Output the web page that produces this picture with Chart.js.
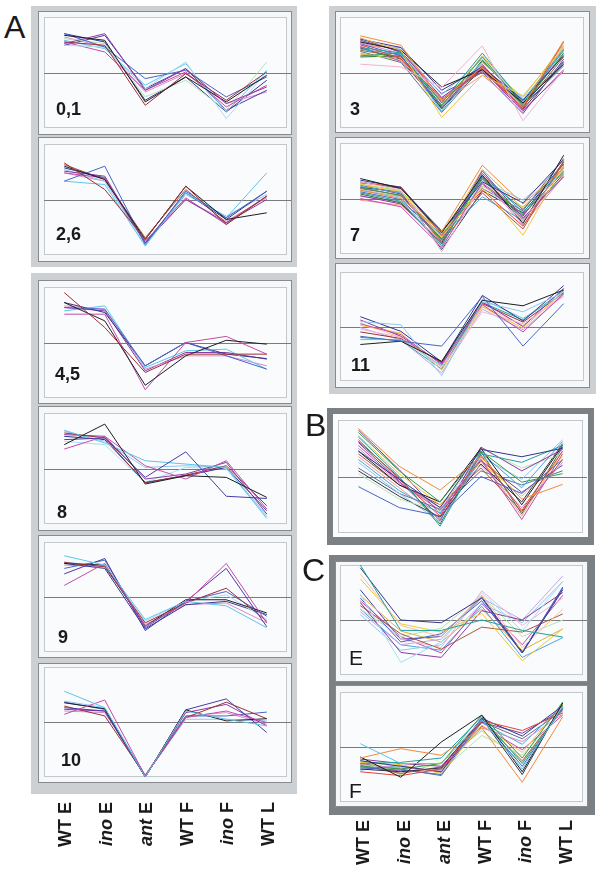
<!DOCTYPE html>
<html>
<head>
<meta charset="utf-8">
<script src="https://cdn.jsdelivr.net/npm/chart.js@4.4.0/dist/chart.umd.min.js"></script>
<style>
  body { margin: 0; background: #fff; width: 600px; height: 880px; position: relative; overflow: hidden;
         font-family: "Liberation Sans", Arial, sans-serif; color: #1a1a1a; }
  .frame { position: absolute; background: #cdd0d3; }
  .frame.dark { background: #7b8085; }
  .inset { position: absolute; background: #fbfcfd; }
  .box { position: absolute; box-sizing: border-box; border: 1px solid #878b90; background: #f5f7f9; }
  .plot { position: absolute; box-sizing: border-box; border: 1px solid #c4c8cc; background: #fafbfd; }
  canvas { position: absolute; }
  .tag { position: absolute; font-weight: bold; font-size: 18px; line-height: 1; }
  .tag.thin { font-weight: normal; font-size: 21px; }
  .big { position: absolute; font-size: 32px; line-height: 1; }
</style>
</head>
<body>
<script>
// x categories (sample stages)
const stages = ["WT E", "ino E", "ant E", "WT F", "ino F", "WT L"];
const italicWords = ["ino", "ant"];

// cluster profiles, one row per gene, scaled so the panel edges are +/-1
const c01 = [
  [0.52, 0.70, -0.32, 0.07, -0.56, -0.26],
  [0.67, 0.58, -0.53, -0.08, -0.53, -0.05],
  [0.55, 0.49, -0.59, -0.02, -0.50, 0.01],
  [0.70, 0.46, -0.11, 0.04, -0.44, -0.08],
  [0.49, 0.46, -0.29, 0.19, -0.83, 0.01],
  [0.55, 0.37, -0.32, 0.01, -0.62, -0.23],
  [0.61, 0.52, -0.44, -0.14, -0.68, 0.19],
  [0.58, 0.43, -0.23, 0.16, -0.71, 0.04],
  [0.49, 0.67, -0.29, 0.07, -0.68, -0.32],
  [0.64, 0.46, -0.35, -0.02, -0.56, -0.35],
  [0.70, 0.55, -0.50, -0.08, -0.71, -0.14]
];
const c26 = [
  [0.66, 0.18, -0.72, 0.24, -0.45, 0.06],
  [0.60, 0.36, -0.72, 0.24, -0.36, -0.24],
  [0.33, 0.60, -0.81, 0.15, -0.33, 0.15],
  [0.33, 0.27, -0.84, 0.12, -0.33, 0.48],
  [0.51, 0.42, -0.78, 0.00, -0.42, 0.00],
  [0.48, 0.39, -0.75, 0.03, -0.45, 0.06],
  [0.57, 0.39, -0.78, 0.12, -0.36, 0.15],
  [0.54, 0.33, -0.81, 0.09, -0.30, 0.09],
  [0.63, 0.36, -0.69, 0.18, -0.42, 0.06],
  [0.48, 0.33, -0.78, 0.00, -0.39, 0.03]
];
const c45 = [
  [0.90, 0.27, -0.54, -0.21, -0.21, -0.21],
  [0.72, 0.39, -0.77, -0.24, 0.04, -0.03],
  [0.51, 0.51, -0.85, 0.00, 0.11, -0.21],
  [0.63, 0.60, -0.42, 0.00, -0.24, -0.48],
  [0.57, 0.66, -0.45, -0.15, -0.12, -0.48],
  [0.72, 0.54, -0.42, 0.00, -0.21, -0.29],
  [0.66, 0.60, -0.48, -0.24, -0.24, -0.42],
  [0.63, 0.57, -0.51, -0.18, -0.18, -0.30]
];
const c8 = [
  [0.43, 0.80, -0.28, -0.13, -0.16, -0.52],
  [0.52, 0.55, -0.16, 0.30, -0.50, -0.54],
  [0.69, 0.46, 0.14, 0.08, 0.02, -0.90],
  [0.35, 0.58, 0.05, -0.19, 0.14, -0.73],
  [0.64, 0.55, -0.26, -0.12, 0.05, -0.67],
  [0.61, 0.58, -0.19, -0.10, 0.11, -0.82],
  [0.67, 0.49, 0.02, 0.05, 0.02, -0.85],
  [0.58, 0.52, -0.25, -0.13, 0.02, -0.76],
  [0.49, 0.43, -0.25, 0.02, -0.01, -0.87]
];
const c9 = [
  [0.75, 0.58, -0.41, -0.08, -0.16, -0.56],
  [0.21, 0.61, -0.53, -0.11, 0.61, -0.47],
  [0.42, 0.70, -0.61, -0.08, 0.52, -0.54],
  [0.63, 0.55, -0.47, -0.11, 0.16, -0.44],
  [0.61, 0.58, -0.53, -0.05, -0.05, -0.29],
  [0.52, 0.67, -0.56, -0.08, 0.10, -0.35],
  [0.64, 0.55, -0.44, -0.08, 0.04, -0.41],
  [0.61, 0.52, -0.58, -0.14, -0.08, -0.32],
  [0.58, 0.55, -0.50, -0.14, -0.11, -0.47]
];
const c10 = [
  [0.56, 0.26, -1.00, 0.20, 0.05, -0.07],
  [0.14, 0.40, -0.98, 0.08, 0.20, -0.01],
  [0.35, 0.24, -1.00, 0.22, 0.02, 0.06],
  [0.26, 0.20, -1.00, 0.22, 0.42, -0.19],
  [0.29, 0.11, -0.98, 0.08, 0.36, 0.06],
  [0.36, 0.23, -0.98, 0.11, 0.11, 0.18],
  [0.23, 0.20, -1.00, 0.17, 0.32, -0.07],
  [0.20, 0.17, -0.96, 0.11, 0.17, -0.04],
  [0.38, 0.26, -0.98, 0.05, 0.05, 0.02]
];
const c3 = [
  [0.66, 0.49, -0.50, 0.10, -0.60, 0.57],
  [0.62, 0.40, -0.81, -0.05, -0.42, 0.45],
  [0.15, 0.10, -0.27, 0.48, -0.87, 0.05],
  [0.55, 0.40, -0.26, 0.05, -0.55, 0.15],
  [0.60, 0.45, -0.32, 0.10, -0.50, 0.30],
  [0.45, 0.35, -0.55, 0.35, -0.55, 0.40],
  [0.30, 0.35, -0.60, 0.28, -0.60, 0.35],
  [0.50, 0.25, -0.52, 0.08, -0.65, 0.55],
  [0.58, 0.38, -0.45, 0.05, -0.70, 0.05],
  [0.52, 0.30, -0.62, 0.12, -0.58, 0.20],
  [0.42, 0.32, -0.70, 0.20, -0.52, 0.42],
  [0.40, 0.28, -0.48, 0.02, -0.62, 0.28],
  [0.47, 0.20, -0.58, 0.15, -0.68, 0.02],
  [0.35, 0.22, -0.50, 0.18, -0.45, 0.50],
  [0.28, 0.30, -0.66, 0.22, -0.56, 0.32],
  [0.56, 0.42, -0.40, 0.24, -0.48, 0.38],
  [0.48, 0.45, -0.54, -0.05, -0.64, 0.48],
  [0.38, 0.18, -0.72, 0.10, -0.60, 0.12],
  [0.62, 0.36, -0.38, 0.00, -0.74, 0.24],
  [0.33, 0.26, -0.60, 0.30, -0.50, 0.44],
  [0.54, 0.34, -0.46, 0.12, -0.54, 0.35],
  [0.44, 0.24, -0.64, 0.06, -0.66, 0.18]
];
const c7 = [
  [0.15, 0.00, -0.60, 0.60, -0.10, 0.55],
  [0.25, 0.12, -0.70, 0.20, -0.66, 0.60],
  [0.30, 0.15, -0.96, 0.25, -0.40, 0.55],
  [0.36, 0.18, -0.62, 0.42, -0.45, 0.78],
  [0.33, 0.20, -0.60, 0.30, -0.08, 0.70],
  [0.10, -0.05, -0.85, 0.45, -0.25, 0.55],
  [0.20, 0.05, -0.75, 0.35, -0.30, 0.50],
  [0.28, 0.21, -0.66, 0.15, -0.50, 0.65],
  [0.05, -0.10, -0.80, 0.50, -0.35, 0.39],
  [0.12, -0.02, -0.72, 0.40, -0.20, 0.62],
  [0.22, 0.10, -0.68, 0.03, -0.40, 0.58],
  [0.18, 0.06, -0.78, 0.10, -0.55, 0.68],
  [0.00, -0.15, -0.88, 0.28, -0.28, 0.48],
  [0.26, 0.14, -0.64, 0.22, -0.15, 0.52],
  [0.08, -0.08, -0.82, 0.38, -0.38, 0.45],
  [0.16, 0.02, -0.90, 0.32, -0.03, 0.60],
  [-0.03, -0.12, -0.76, 0.46, -0.42, 0.42],
  [0.30, 0.18, -0.58, 0.18, -0.22, 0.72],
  [0.24, 0.08, -0.74, 0.26, -0.32, 0.66],
  [0.14, 0.04, -0.70, 0.52, -0.18, 0.56],
  [0.04, -0.06, -0.66, 0.36, -0.48, 0.40],
  [0.20, 0.12, -0.92, 0.14, -0.26, 0.62]
];
const c11 = [
  [-0.18, -0.27, -0.36, 0.55, -0.36, 0.42],
  [-0.33, -0.27, -0.64, 0.48, 0.38, 0.67],
  [0.09, 0.03, -0.90, 0.45, 0.27, 0.63],
  [0.18, -0.09, -0.65, 0.57, 0.10, 0.75],
  [0.05, -0.15, -0.70, 0.40, -0.10, 0.60],
  [-0.05, -0.20, -0.75, 0.27, 0.05, 0.55],
  [0.02, -0.12, -0.80, 0.36, -0.03, 0.65],
  [-0.24, -0.24, -0.72, 0.50, 0.15, 0.60],
  [0.12, -0.18, -0.68, 0.45, 0.00, 0.70],
  [-0.10, -0.22, -0.66, 0.42, 0.08, 0.62],
  [-0.02, -0.25, -0.85, 0.32, -0.06, 0.58],
  [-0.20, -0.26, -0.78, 0.44, 0.12, 0.66],
  [0.06, -0.20, -0.74, 0.38, 0.02, 0.60]
];
const cB = [
  [0.85, 0.18, -0.24, 0.35, -0.40, -0.14],
  [-0.18, -0.55, -0.70, 0.00, -0.30, 0.30],
  [0.45, -0.05, -0.55, 0.48, 0.35, 0.50],
  [0.70, 0.00, -0.88, 0.40, 0.25, 0.55],
  [0.78, 0.10, -0.45, 0.45, -0.10, 0.05],
  [0.55, -0.10, -0.60, 0.30, -0.76, 0.40],
  [0.45, -0.15, -0.45, 0.50, -0.50, 0.55],
  [0.65, -0.05, -0.70, 0.38, -0.60, 0.45],
  [0.72, 0.05, -0.50, 0.25, -0.35, 0.35],
  [0.60, -0.08, -0.78, 0.52, 0.10, 0.48],
  [0.30, -0.25, -0.65, 0.42, -0.20, 0.62],
  [0.50, -0.12, -0.55, 0.20, -0.55, 0.25],
  [0.05, -0.40, -0.62, 0.50, 0.15, 0.40],
  [0.10, -0.35, -0.72, 0.22, -0.45, 0.58],
  [0.40, -0.15, -0.50, 0.15, -0.62, 0.30],
  [0.25, -0.30, -0.80, 0.35, -0.05, 0.65],
  [0.82, 0.12, -0.66, 0.28, -0.28, 0.20],
  [0.62, -0.02, -0.84, 0.44, -0.66, 0.52],
  [0.15, -0.30, -0.58, 0.10, -0.15, 0.10],
  [0.35, -0.20, -0.75, 0.32, -0.70, 0.45]
];
const cE = [
  [1.00, -0.19, -0.19, 0.00, -0.19, -0.31],
  [0.95, 0.00, -0.05, 0.40, -0.60, 0.55],
  [0.84, -0.10, -0.30, 0.45, -0.50, 0.20],
  [0.75, -0.07, -0.22, 0.12, -0.74, -0.16],
  [0.47, -0.77, -0.40, 0.50, -0.20, 0.70],
  [0.32, -0.59, -0.68, 0.17, 0.00, 0.50],
  [0.26, -0.25, -0.53, -0.13, -0.22, 0.11],
  [0.40, -0.40, -0.25, 0.35, -0.60, 0.60],
  [0.30, -0.35, -0.50, 0.53, -0.10, 0.40],
  [0.15, -0.45, -0.35, 0.40, 0.00, 0.80],
  [0.10, -0.55, -0.45, 0.30, -0.05, 0.70],
  [0.20, -0.30, -0.15, 0.45, -0.30, 0.00],
  [0.35, -0.30, -0.60, 0.30, -0.45, 0.45],
  [0.20, -0.45, -0.55, 0.25, -0.68, -0.32],
  [0.45, -0.20, -0.40, 0.20, -0.55, -0.16],
  [0.55, -0.35, -0.30, 0.42, -0.58, 0.58]
];
const cF = [
  [0.06, -0.30, -0.30, 0.50, -0.40, 0.75],
  [-0.20, -0.03, -0.15, 0.35, -0.64, 0.55],
  [-0.18, -0.55, 0.09, 0.58, -0.45, 0.80],
  [-0.45, -0.52, -0.40, 0.48, 0.30, 0.62],
  [-0.25, -0.35, -0.45, 0.52, 0.20, 0.75],
  [-0.30, -0.28, -0.20, 0.55, -0.30, 0.70],
  [-0.35, -0.40, -0.30, 0.58, -0.20, 0.82],
  [-0.28, -0.32, -0.48, 0.40, -0.10, 0.78],
  [-0.22, -0.30, -0.35, 0.45, 0.25, 0.68],
  [-0.38, -0.42, -0.50, 0.50, -0.35, 0.72],
  [-0.32, -0.38, -0.42, 0.35, 0.10, 0.60],
  [-0.40, -0.45, -0.38, 0.52, -0.50, 0.80],
  [-0.26, -0.36, -0.44, 0.21, -0.15, 0.65],
  [-0.33, -0.48, -0.36, 0.48, -0.25, 0.70],
  [-0.42, -0.34, -0.46, 0.44, 0.05, 0.76],
  [-0.36, -0.44, -0.40, 0.38, -0.05, 0.58],
  [-0.24, -0.50, -0.28, 0.30, -0.28, 0.74],
  [-0.30, -0.40, -0.52, 0.46, 0.15, 0.66]
];

// line colours
const col = {
  navy: "#33348f", purple: "#8b3a9f", magenta: "#c64aa7", cyan: "#5cc4e8", ltcyan: "#a8def0",
  black: "#1e1e1e", dkred: "#9c2f36", blue: "#4b63c7", pink: "#d78dca", violet: "#6a3fa8",
  ltgreen: "#b6e2b4", indigo: "#4a3aa8", orange: "#f08a3c", yellow: "#f2c53d", teal: "#23a09a",
  green: "#3a9a4e", red: "#e2433b", sky: "#4aa3e0", brown: "#a4583a", lime: "#b4d35a",
  slate: "#5f7185", ltblue: "#8fc7ee", salmon: "#f39a8c", dkgreen: "#2f6e3e", gold: "#d9b43a",
  peach: "#f6c09a", lavender: "#c3a6e4", ltpink: "#f3b2d2", dark: "#333344"
};
const k01 = ["purple", "black", "dkred", "blue", "ltcyan", "magenta", "ltgreen", "cyan", "indigo", "pink", "navy"];
const k26 = ["dkred", "black", "blue", "cyan", "purple", "magenta", "navy", "ltblue", "brown", "pink"];
const k45 = ["dkred", "black", "magenta", "blue", "cyan", "navy", "pink", "purple"];
const k8 = ["black", "indigo", "cyan", "magenta", "dkred", "purple", "ltblue", "navy", "ltcyan"];
const k9 = ["cyan", "magenta", "indigo", "dkred", "black", "blue", "ltcyan", "navy", "pink"];
const k10 = ["cyan", "magenta", "black", "indigo", "dkred", "blue", "purple", "pink", "ltblue"];
const kBig = ["orange", "yellow", "ltpink", "black", "navy", "teal", "green", "red", "purple", "blue", "sky",
              "brown", "magenta", "lime", "dkgreen", "ltblue", "salmon", "slate", "violet", "gold", "pink", "dark"];
const k11 = ["blue", "black", "ltblue", "navy", "magenta", "ltpink", "yellow", "cyan", "purple", "dkred", "lavender", "teal", "peach"];
const kB = ["orange", "blue", "navy", "teal", "green", "magenta", "black", "red", "yellow", "purple", "sky",
            "pink", "ltgreen", "dark", "brown", "ltblue", "violet", "dkgreen", "slate", "salmon"];
const kE = ["teal", "navy", "peach", "yellow", "ltcyan", "purple", "brown", "blue", "ltpink", "lavender",
            "ltblue", "ltgreen", "magenta", "sky", "gold", "indigo"];
const kF = ["cyan", "orange", "black", "red", "navy", "teal", "green", "yellow", "purple", "blue", "pink",
            "dark", "ltgreen", "brown", "sky", "magenta", "lime", "slate"];

// page layout: [left, top, width, height]
const frames = [
  { r: [31, 6, 266, 261] }, { r: [31, 273, 266, 521] }, { r: [329, 6, 267, 388] },
  { r: [327, 408, 267, 137], dark: true, inset: [333, 414, 255, 123] },
  { r: [329, 555, 266, 260], dark: true }
];
const panels = [
  { rows: c01, keys: k01, box: [38, 11, 254, 124], plot: [44, 17, 243, 111], tag: "0,1", at: [56, 100] },
  { rows: c26, keys: k26, box: [38, 137, 254, 125], plot: [44, 144, 243, 111], tag: "2,6", at: [56, 225] },
  { rows: c45, keys: k45, box: [38, 280, 254, 124], plot: [44, 287, 243, 111], tag: "4,5", at: [55, 365] },
  { rows: c8, keys: k8, box: [38, 406, 254, 125], plot: [44, 413, 243, 111], tag: "8", at: [57, 503] },
  { rows: c9, keys: k9, box: [38, 535, 254, 123], plot: [44, 542, 243, 110], tag: "9", at: [58, 628] },
  { rows: c10, keys: k10, box: [38, 663, 254, 120], plot: [44, 667, 243, 110], tag: "10", at: [61, 751], labels: { gap: 25, dx: 2 } },
  { rows: c3, keys: kBig, box: [335, 11, 255, 122], plot: [340, 17, 244, 111], tag: "3", at: [350, 100] },
  { rows: c7, keys: kBig, box: [335, 137, 255, 122], plot: [340, 143, 244, 111], tag: "7", at: [350, 226] },
  { rows: c11, keys: k11, box: [335, 263, 255, 125], plot: [340, 272, 244, 109], tag: "11", at: [351, 356] },
  { rows: cB, keys: kB, box: null, plot: [338, 420, 245, 113] },
  { rows: cE, keys: kE, box: [335, 561, 253, 121], plot: [340, 565, 243, 110], tag: "E", thin: true, at: [349, 647] },
  { rows: cF, keys: kF, box: [335, 685, 253, 122], plot: [340, 692, 243, 110], tag: "F", thin: true, at: [349, 780], labels: { gap: 18, dx: 4 } }
];
const letters = [["A", 4, 11], ["B", 305, 409], ["C", 302, 554]];

function place(cls, r, parent) {
  const d = document.createElement("div");
  d.className = cls;
  d.style.cssText = `left:${r[0]}px;top:${r[1]}px;width:${r[2]}px;height:${r[3]}px`;
  (parent || document.body).appendChild(d);
  return d;
}

// grey line through zero, drawn under the profiles
const zeroLine = {
  id: "zeroLine",
  beforeDatasetsDraw(chart) {
    const ctx = chart.ctx;
    const y = Math.round(chart.scales.y.getPixelForValue(0)) + 0.5;
    ctx.save();
    ctx.strokeStyle = "#7a7a7a";
    ctx.lineWidth = 1;
    ctx.beginPath();
    ctx.moveTo(chart.chartArea.left, y);
    ctx.lineTo(chart.width, y);
    ctx.stroke();
    ctx.restore();
  }
};

// rotated stage names under the bottom panels, "ino"/"ant" in italics
const stageLabels = {
  id: "stageLabels",
  afterDraw(chart, args, opts) {
    if (!opts.show) return;
    const ctx = chart.ctx;
    const xs = chart.scales.x;
    stages.forEach((name, i) => {
      const parts = name.split(" ").map((w, k, all) => ({
        t: k < all.length - 1 ? w + " " : w,
        it: italicWords.includes(w)
      }));
      ctx.save();
      ctx.translate(xs.getPixelForValue(i) + opts.dx, chart.chartArea.bottom + opts.gap);
      ctx.rotate(-Math.PI / 2);
      ctx.textBaseline = "middle";
      ctx.textAlign = "left";
      ctx.fillStyle = "#1a1a1a";
      const fontOf = (p) => (p.it ? "italic " : "") + 'bold 18px "Liberation Sans", Arial, sans-serif';
      const widths = parts.map((p) => { ctx.font = fontOf(p); return ctx.measureText(p.t).width; });
      let pos = -widths.reduce((a, b) => a + b, 0);
      parts.forEach((p, k) => {
        ctx.font = fontOf(p);
        ctx.fillText(p.t, pos, 0);
        pos += widths[k];
      });
      ctx.restore();
    });
  }
};

frames.forEach((f) => {
  place("frame" + (f.dark ? " dark" : ""), f.r);
  if (f.inset) place("inset", f.inset);
});

panels.forEach((p) => {
  if (p.box) place("box", p.box);
  place("plot", p.plot);

  const extra = p.labels ? 80 : 0;
  const cv = document.createElement("canvas");
  cv.width = p.plot[2] + 4;
  cv.height = p.plot[3] + extra;
  cv.style.left = p.plot[0] + "px";
  cv.style.top = p.plot[1] + "px";
  document.body.appendChild(cv);

  new Chart(cv, {
    type: "line",
    data: {
      labels: stages,
      datasets: p.rows.map((row, i) => ({
        data: row,
        borderColor: col[p.keys[i % p.keys.length]],
        borderWidth: 1,
        pointRadius: 0,
        tension: 0,
        fill: false,
        clip: 6
      }))
    },
    options: {
      responsive: false,
      animation: false,
      events: [],
      layout: { padding: { left: 0, top: 0, right: 4, bottom: extra } },
      plugins: {
        legend: { display: false },
        tooltip: { enabled: false },
        stageLabels: p.labels ? { show: true, gap: p.labels.gap, dx: p.labels.dx } : { show: false }
      },
      scales: {
        x: { type: "category", offset: true, display: false },
        y: { min: -1, max: 1, display: false }
      }
    },
    plugins: [zeroLine, stageLabels]
  });

  if (p.tag) {
    const t = document.createElement("div");
    t.className = "tag" + (p.thin ? " thin" : "");
    t.textContent = p.tag;
    t.style.left = p.at[0] + "px";
    t.style.top = p.at[1] + "px";
    document.body.appendChild(t);
  }
});

letters.forEach(([s, x, y]) => {
  const d = document.createElement("div");
  d.className = "big";
  d.textContent = s;
  d.style.left = x + "px";
  d.style.top = y + "px";
  document.body.appendChild(d);
});
</script>
</body>
</html>
